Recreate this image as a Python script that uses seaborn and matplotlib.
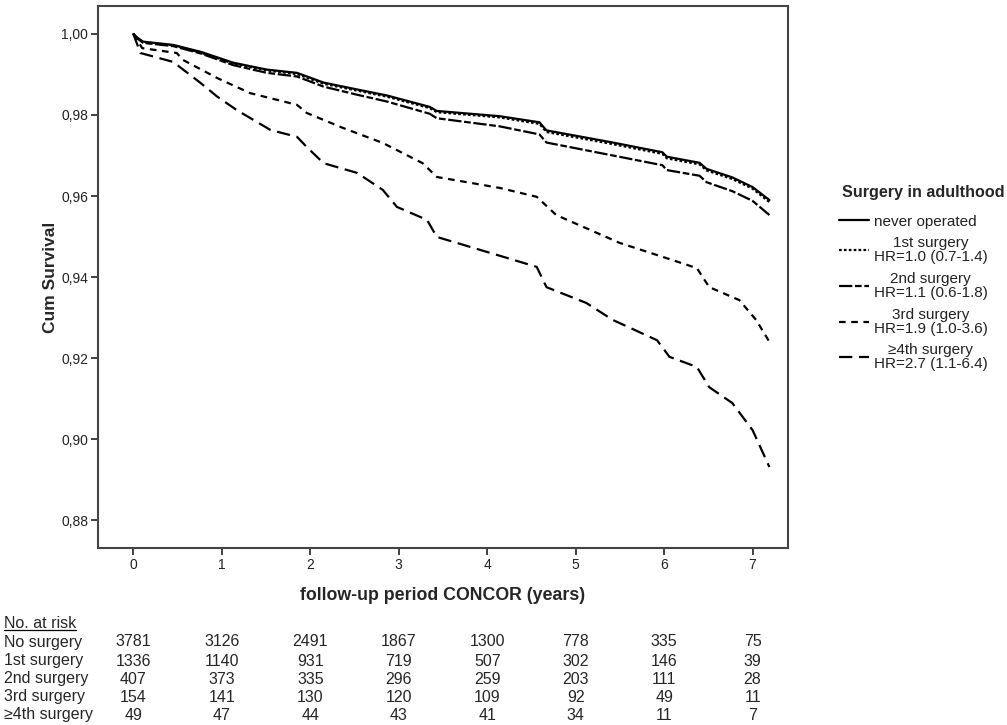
import matplotlib
matplotlib.use("Agg")
import matplotlib.pyplot as plt
import matplotlib.transforms as mtransforms
from matplotlib.ticker import FuncFormatter
import seaborn as sns
import pandas as pd

sns.set_style("white")
plt.rcParams['font.family'] = ['Liberation Sans', 'DejaVu Sans']

# survival curves
t_never = [0, 0.05, 0.11, 0.45, 0.76, 1.13, 1.51, 1.85, 2.15, 2.53, 2.87, 3.35, 3.43,
           4.14, 4.59, 4.67, 5.42, 5.98, 6.03, 6.40, 6.48, 6.77, 7.00, 7.19]
s_never = [1.000, 0.9990, 0.9981, 0.9973, 0.9956, 0.9929, 0.9912, 0.9904, 0.9880, 0.9863,
           0.9848, 0.9820, 0.9810, 0.9797, 0.9782, 0.9762, 0.9732, 0.9708, 0.9697, 0.9682,
           0.9667, 0.9646, 0.9622, 0.9590]
s_first = [1.000, 0.9989, 0.9980, 0.9972, 0.9954, 0.9927, 0.9910, 0.9901, 0.9877, 0.9860,
           0.9845, 0.9817, 0.9807, 0.9794, 0.9778, 0.9758, 0.9728, 0.9704, 0.9693, 0.9678,
           0.9663, 0.9642, 0.9618, 0.9585]
s_second = [1.000, 0.9988, 0.9978, 0.9970, 0.9952, 0.9923, 0.9904, 0.9895, 0.9870, 0.9850,
            0.9833, 0.9803, 0.9792, 0.9772, 0.9752, 0.9732, 0.9700, 0.9676, 0.9664, 0.9650,
            0.9634, 0.9612, 0.9588, 0.9553]
t_third = [0, 0.10, 0.49, 0.56, 0.95, 1.32, 1.85, 1.96, 2.37, 2.82, 3.27, 3.43, 4.14,
           4.56, 4.78, 5.50, 5.98, 6.37, 6.51, 6.85, 7.04, 7.19]
s_third = [1.000, 0.9965, 0.9953, 0.9936, 0.9891, 0.9854, 0.9825, 0.9805, 0.9768, 0.9731,
           0.9681, 0.9647, 0.9620, 0.9598, 0.9553, 0.9484, 0.9450, 0.9422, 0.9375, 0.9343,
           0.9294, 0.9240]
t_fourth = [0, 0.08, 0.45, 0.76, 0.95, 1.17, 1.55, 1.85, 1.96, 2.15, 2.53, 2.82, 2.98,
            3.32, 3.43, 4.18, 4.56, 4.67, 5.12, 5.42, 5.92, 6.06, 6.37, 6.51, 6.77, 7.00, 7.19]
s_fourth = [1.000, 0.9953, 0.9931, 0.9879, 0.9845, 0.9812, 0.9763, 0.9746, 0.9721, 0.9681,
            0.9657, 0.9615, 0.9573, 0.9541, 0.9499, 0.9450, 0.9425, 0.9375, 0.9336, 0.9294,
            0.9244, 0.9203, 0.9178, 0.9128, 0.9089, 0.9022, 0.8931]

legend_title = "Surgery in adulthood"
legend_labels = ["never operated",
                 "1st surgery\nHR=1.0 (0.7-1.4)",
                 "2nd surgery\nHR=1.1 (0.6-1.8)",
                 "3rd surgery\nHR=1.9 (1.0-3.6)",
                 "\u22654th surgery\nHR=2.7 (1.1-6.4)"]

# number at risk table
risk_times = [0, 1, 2, 3, 4, 5, 6, 7]
risk_rows = ["No surgery", "1st surgery", "2nd surgery", "3rd surgery", "\u22654th surgery"]
risk_no = [3781, 3126, 2491, 1867, 1300, 778, 335, 75]
risk_first = [1336, 1140, 931, 719, 507, 302, 146, 39]
risk_second = [407, 373, 335, 296, 259, 203, 111, 28]
risk_third = [154, 141, 130, 120, 109, 92, 49, 11]
risk_fourth = [49, 47, 44, 43, 41, 34, 11, 7]

curves = [(t_never, s_never, '-'),
          (t_never, s_first, (0, (1.2, 1.0))),
          (t_never, s_second, (0, (6, 1.2, 3, 1.2))),
          (t_third, s_third, (0, (3, 2.5))),
          (t_fourth, s_fourth, (0, (6, 3)))]

fig = plt.figure(figsize=(10.07, 7.25), dpi=100)
ax = fig.add_axes([0.0973, 0.2441, 0.6852, 0.7476])

for (t, s, ls), lab in zip(curves, legend_labels):
    df = pd.DataFrame({'t': t, 's': s})
    sns.lineplot(data=df, x='t', y='s', ax=ax, color='black', linestyle=ls,
                 linewidth=1.6, estimator=None, sort=False, label=lab, legend=False)

ax.set_xlim(-0.4, 7.4)
ax.set_ylim(0.8731, 1.0069)
ax.set_xticks(risk_times)
ax.set_yticks([0.88, 0.90, 0.92, 0.94, 0.96, 0.98, 1.00])
ax.yaxis.set_major_formatter(FuncFormatter(lambda v, p: f"{v:.2f}".replace('.', ',')))
ax.tick_params(axis='both', direction='out', length=5, width=1.3, color='#333333',
               labelsize=10, labelcolor='#222222', left=True, bottom=True, pad=2)
for sp in ax.spines.values():
    sp.set_color('#444444')
    sp.set_linewidth(1.5)
ax.set_xlabel("follow-up period CONCOR (years)", fontsize=12.8, fontweight='bold', labelpad=11)
ax.set_ylabel("Cum Survival", fontsize=12.5, fontweight='bold', labelpad=2)

# legend: title drawn separately so it can sit right of the handles
fig.text(842 / 1007, 1 - 192 / 725, legend_title, fontsize=11.6, fontweight='bold',
         ha='left', va='center')
handles, labels = ax.get_legend_handles_labels()
leg = fig.legend(handles, labels, loc='upper left', bbox_to_anchor=(831 / 1007, 1 - 207 / 725),
                 frameon=False, fontsize=11, handlelength=2.0, handletextpad=0.3,
                 labelspacing=0.5, borderpad=0)
for txt in leg.get_texts():
    txt.set_multialignment('center')
    txt.set_linespacing(1.0)
    txt.set_color('#222222')

# at-risk table below the axes
trans = mtransforms.blended_transform_factory(ax.transData, fig.transFigure)
row_y = [642, 661, 679, 697, 715]
fs = 11.5
head = fig.text(4 / 1007, 1 - 623 / 725, "No. at risk", fontsize=fs, va='center', ha='left')
for name, vals, y in zip(risk_rows, [risk_no, risk_first, risk_second, risk_third, risk_fourth], row_y):
    fig.text(4 / 1007, 1 - y / 725, name, fontsize=fs, va='center', ha='left')
    for tx, v in zip(risk_times, vals):
        fig.text(tx, 1 - y / 725, str(v), fontsize=fs, va='center', ha='center', transform=trans)

fig.canvas.draw()
bb = head.get_window_extent().transformed(fig.transFigure.inverted())
fig.add_artist(plt.Line2D([bb.x0, bb.x1], [bb.y0 + 0.001, bb.y0 + 0.001],
                          transform=fig.transFigure, color='black', linewidth=0.9))

fig.savefig("out.png", dpi=100)
